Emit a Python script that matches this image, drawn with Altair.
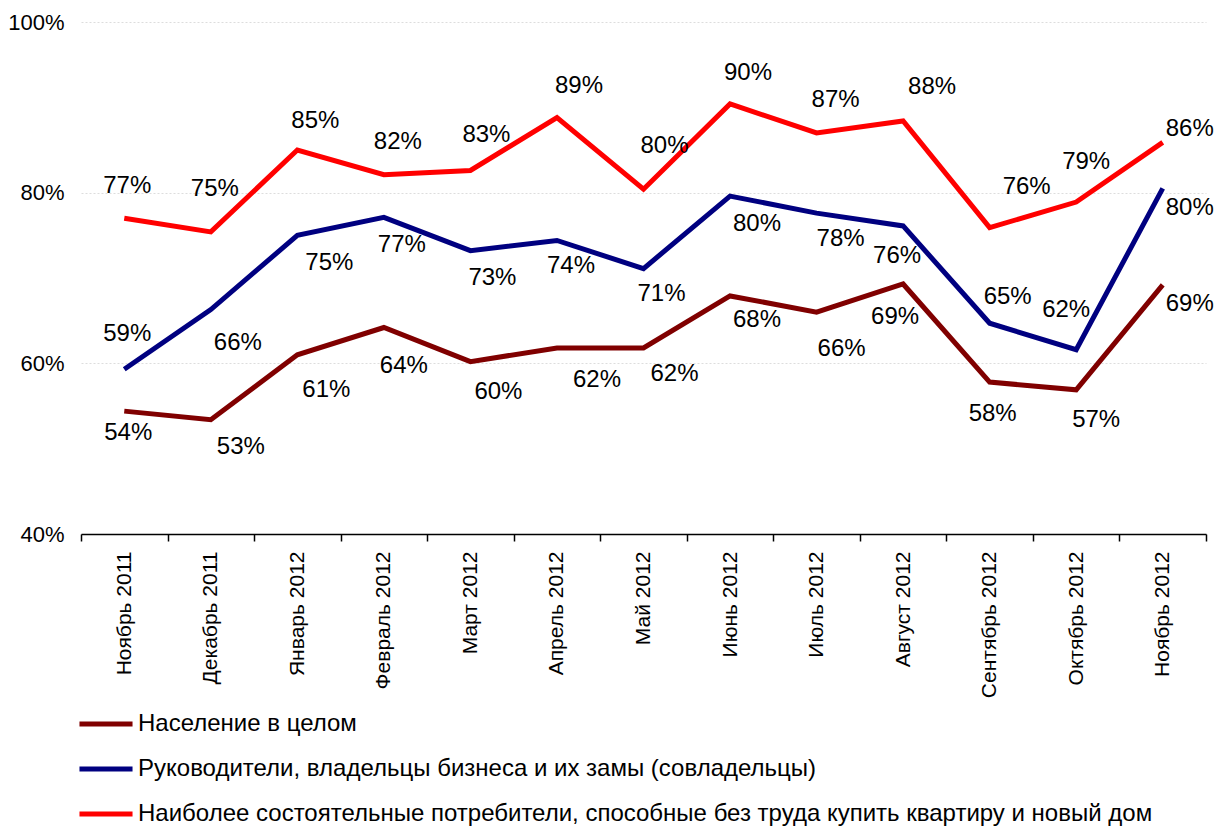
import altair as alt
import pandas as pd

MONTHS = ["Ноябрь 2011", "Декабрь 2011", "Январь 2012", "Февраль 2012", "Март 2012",
          "Апрель 2012", "Май 2012", "Июнь 2012", "Июль 2012", "Август 2012",
          "Сентябрь 2012", "Октябрь 2012", "Ноябрь 2012"]
SERIES = ["Население в целом",
          "Руководители, владельцы бизнеса и их замы (совладельцы)",
          "Наиболее состоятельные потребители, способные без труда купить квартиру и новый дом"]
COLORS = ["#800000", "#000080", "#FF0000"]

POP = [54.4, 53.4, 61.0, 64.2, 60.2, 61.8, 61.8, 67.9, 66.0, 69.3, 57.8, 56.9, 69.2]
BIZ = [59.3, 66.3, 75.0, 77.1, 73.2, 74.4, 71.1, 79.6, 77.6, 76.1, 64.7, 61.6, 80.5]
RICH = [77.0, 75.4, 85.0, 82.1, 82.6, 88.8, 80.4, 90.4, 87.0, 88.4, 75.9, 78.9, 85.9]

# label placement (pixel offsets of each value label from its point)
POP_DX = [4, 30, 29, 20, 28, 40, 31, 27, 25, -8, 3, 20, 27]
POP_DY = [22, 27, 35, 39, 30, 32, 26, 24, 37, 33, 32, 30, 19]
BIZ_DX = [3, 27, 32, 18, 22, 14, 18, 27, 24, -6, 18, -10, 27]
BIZ_DY = [-35, 33, 28, 28, 27, 26, 25, 28, 26, 30, -26, -40, 20]
RICH_DX = [3, 4, 18, 14, 16, 22, 21, 18, 19, 29, 37, 10, 27]
RICH_DY = [-32, -43, -29, -33, -35, -32, -43, -31, -33, -34, -41, -40, -13]

W, H = 1125, 512
Y_MIN, Y_MAX = 40, 100
STEP = W / len(MONTHS)
PX_PER_UNIT = H / (Y_MAX - Y_MIN)

rows = []
for s, vals, dxs, dys in [(SERIES[0], POP, POP_DX, POP_DY),
                          (SERIES[1], BIZ, BIZ_DX, BIZ_DY),
                          (SERIES[2], RICH, RICH_DX, RICH_DY)]:
    for m, v, dx, dy in zip(MONTHS, vals, dxs, dys):
        rows.append({"month": m, "series": s, "value": v,
                     "label": f"{round(v)}%",
                     "xo": dx + STEP / 2,
                     "ly": v - dy / PX_PER_UNIT})
df = pd.DataFrame(rows)

FONT = "Liberation Sans"

x_enc = alt.X("month:N", sort=MONTHS,
              scale=alt.Scale(type="band", paddingInner=0, paddingOuter=0),
              axis=alt.Axis(title=None, labelAngle=270, labelFontSize=21, labelFont=FONT,
                            labelColor="#000000", domainColor="#000000", domainWidth=1.5,
                            tickColor="#000000", tickWidth=1.5, tickSize=7, tickBand="extent",
                            labelPadding=10, grid=False, labelLimit=300))
y_scale = alt.Scale(domain=[Y_MIN, Y_MAX], nice=False, zero=False)
y_enc = alt.Y("value:Q", scale=y_scale,
              axis=alt.Axis(title=None, values=[40, 60, 80, 100], labelExpr="datum.value + '%'",
                            labelFontSize=22, labelFont=FONT, labelColor="#000000",
                            domain=False, ticks=False, grid=True, gridColor="#dddddd",
                            gridDash=[2, 2], gridWidth=1, labelPadding=17))

lines = alt.Chart(df).mark_line(strokeWidth=5, strokeCap="butt", strokeJoin="miter").encode(
    x=x_enc, y=y_enc,
    color=alt.Color("series:N", sort=SERIES,
                    scale=alt.Scale(domain=SERIES, range=COLORS),
                    legend=alt.Legend(title=None, orient="none", legendX=13, legendY=690,
                                      direction="vertical", symbolType="M-4,0H4",
                                      symbolSize=176, symbolStrokeWidth=5,
                                      labelFontSize=24, labelFont=FONT, labelColor="#000000",
                                      labelOffset=20, rowPadding=21, labelLimit=1200,
                                      padding=0)),
)

labels = alt.Chart(df).mark_text(fontSize=24, font=FONT, color="#000000",
                                 align="center", baseline="middle").encode(
    x=alt.X("month:N", sort=MONTHS),
    y=alt.Y("ly:Q", scale=y_scale),
    xOffset=alt.XOffset("xo:Q", scale=None),
    text="label:N",
)

chart = alt.layer(lines, labels).properties(
    width=W, height=H,
    autosize=alt.AutoSizeParams(type="none"),
    padding={"left": 73, "top": 14, "right": 8, "bottom": 300},
).configure_view(stroke=None)

chart.save("out.html", embed_options={"renderer": "svg", "actions": False})
